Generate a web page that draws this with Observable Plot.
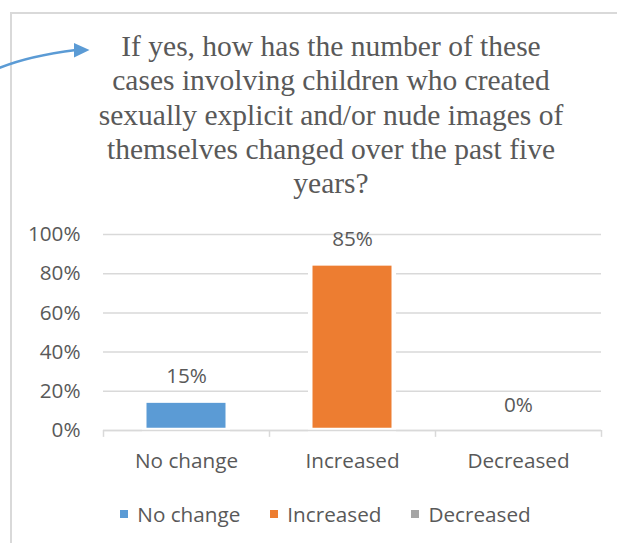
<!DOCTYPE html>
<html>
<head>
<meta charset="utf-8">
<script src="https://cdn.jsdelivr.net/npm/d3@7"></script>
<script src="https://cdn.jsdelivr.net/npm/@observablehq/plot@0.6"></script>
<style>
  html, body { margin: 0; padding: 0; background: #fff; }
  #wrap { position: relative; width: 617px; height: 543px; overflow: hidden; background: #fff; }
  #frame { position: absolute; left: 10px; top: 12px; width: 700px; height: 600px;
           border-left: 2px solid #D9D9D9; border-top: 2px solid #D9D9D9; box-sizing: border-box; }
  #title { position: absolute; left: 31px; width: 600px; top: 29px; text-align: center;
           font-family: "Liberation Serif", "Times New Roman", serif; font-size: 29.5px;
           line-height: 34.3px; color: #595959; }
  #chart { position: absolute; left: 0; top: 210px; }
  #legend { position: absolute; top: 500px; left: 0; width: 651px; display: flex; justify-content: center;
            font-family: "Open Sans", sans-serif; font-size: 20.7px; color: #595959; }
  .item { display: flex; align-items: center; margin: 0 15px; }
  .sw { width: 8px; height: 8px; margin-right: 9px; }
  #arrow { position: absolute; left: 0; top: 0; }
</style>
</head>
<body>
<div id="wrap">
  <div id="frame"></div>
  <svg id="arrow" width="100" height="80">
    <path d="M -2 68.5 Q 28 56 76 50" fill="none" stroke="#5B9BD5" stroke-width="2.5"/>
    <polygon points="74,43 89.5,50 74,57.5" fill="#5B9BD5"/>
  </svg>
  <div id="title"></div>
  <div id="chart"></div>
  <div id="legend"></div>
</div>
<script>
const titleLines = [
  "If yes, how has the number of these",
  "cases involving children who created",
  "sexually explicit and/or nude images of",
  "themselves changed over the past five",
  "years?"
];
const categories = ["No change", "Increased", "Decreased"];
const values = [0.15, 0.85, 0.0];
const colors = ["#5B9BD5", "#ED7D31", "#A5A5A5"];
const yTicks = [0, 0.2, 0.4, 0.6, 0.8, 1.0];

const data = categories.map((c, i) => ({cat: c, value: values[i]}));
const pct = d3.format(".0%");

document.getElementById("title").innerHTML = titleLines.join("<br>");

const chart = Plot.plot({
  width: 617,
  height: 265,
  marginLeft: 103,
  marginRight: 16,
  marginTop: 24,
  marginBottom: 45,
  style: {fontFamily: "Open Sans, sans-serif", fontSize: "20.7px", color: "#595959", background: "transparent", overflow: "visible"},
  x: {domain: categories, padding: 0},
  y: {domain: [0, 1]},
  color: {domain: categories, range: colors},
  marks: [
    Plot.gridY(yTicks, {stroke: "#D9D9D9", strokeOpacity: 1, strokeWidth: 1.5}),
    Plot.barY(data, {x: "cat", y: "value", fill: "cat", stroke: "white", strokeWidth: 4.5,
                     insetLeft: 41.25, insetRight: 41.25}),
    Plot.ruleY([0], {stroke: "#D9D9D9", strokeWidth: 1.5}),
    Plot.ruleX(categories, {x: d => d, dx: -83, y1: 0, y2: -0.035, stroke: "#D9D9D9", strokeWidth: 1.5}),
    Plot.ruleX(categories.slice(-1), {x: d => d, dx: 83, y1: 0, y2: -0.035, stroke: "#D9D9D9", strokeWidth: 1.5}),
    Plot.text(data, {x: "cat", y: "value", text: d => pct(d.value), dy: -25, fontSize: 20.7, fill: "#595959"}),
    Plot.axisY(yTicks, {tickFormat: pct, tickSize: 0, tickPadding: 23, fontSize: 20.7, label: null}),
    Plot.axisX({tickSize: 0, tickPadding: 23, fontSize: 20.7, label: null})
  ]
});
document.getElementById("chart").appendChild(chart);

const legend = document.getElementById("legend");
categories.forEach((c, i) => {
  const item = document.createElement("div");
  item.className = "item";
  const sw = document.createElement("div");
  sw.className = "sw";
  sw.style.background = colors[i];
  const t = document.createElement("span");
  t.textContent = c;
  item.appendChild(sw);
  item.appendChild(t);
  legend.appendChild(item);
});
</script>
</body>
</html>
